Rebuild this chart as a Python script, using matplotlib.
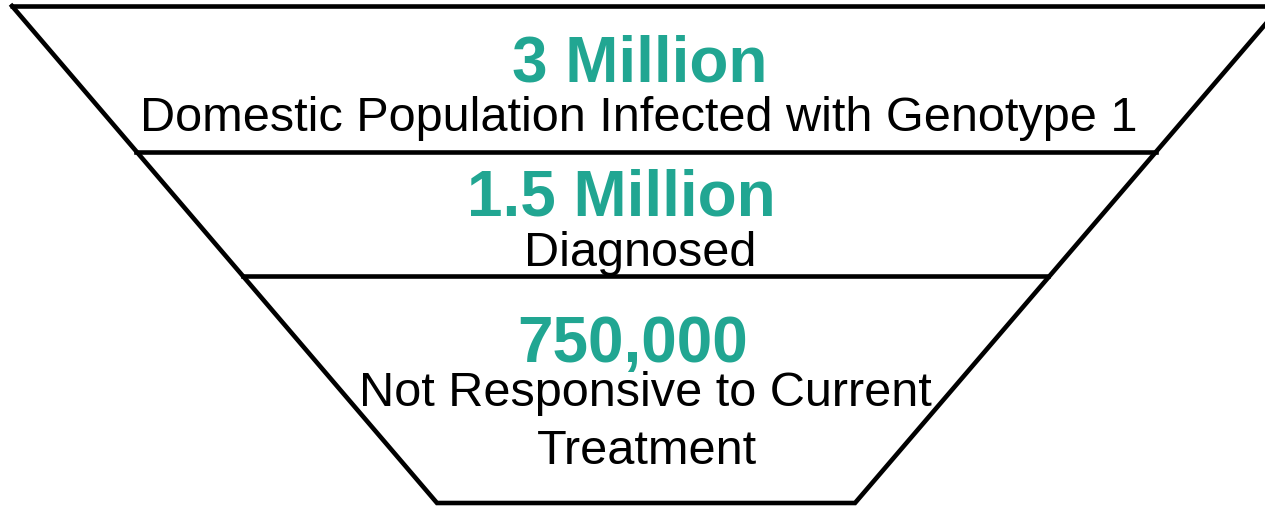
import matplotlib.pyplot as plt

plt.rcParams['font.family'] = ['Liberation Sans', 'DejaVu Sans']

# funnel stages, top to bottom
counts = ["3 Million", "1.5 Million", "750,000"]
labels = ["Domestic Population Infected with Genotype 1",
          "Diagnosed",
          "Not Responsive to Current\nTreatment"]

teal = "#21A692"

fig = plt.figure(figsize=(12.65, 5.08), dpi=100)
ax = fig.add_axes([0, 0, 1, 1])
ax.set_xlim(0, 1265)
ax.set_ylim(508, 0)
ax.axis("off")

# funnel outline (pixel-like coords)
lw = 3.3
ax.plot([10, 1265], [6, 6], color="black", lw=lw, solid_capstyle="butt")
ax.plot([12, 437, 855, 1281], [6, 503, 503, 6], color="black", lw=lw,
        solid_joinstyle="miter")
ax.plot([136, 1156], [152, 152], color="black", lw=lw)
ax.plot([243, 1048], [276, 276], color="black", lw=lw)

# baselines / centres for the text of each stage
count_pos = [(640, 82), (621, 215), (633, 362)]
label_pos = [(639, 131), (640, 266), (645, 406)]
line_gap = 58
for c, l, cp, lp in zip(counts, labels, count_pos, label_pos):
    ax.text(cp[0], cp[1], c, color=teal, fontsize=46, fontweight="bold",
            ha="center", va="baseline")
    for i, line in enumerate(l.split("\n")):
        ax.text(lp[0] + 2 * i, lp[1] + i * line_gap, line, color="black",
                fontsize=35, ha="center", va="baseline")

fig.savefig("out.png", dpi=100)
